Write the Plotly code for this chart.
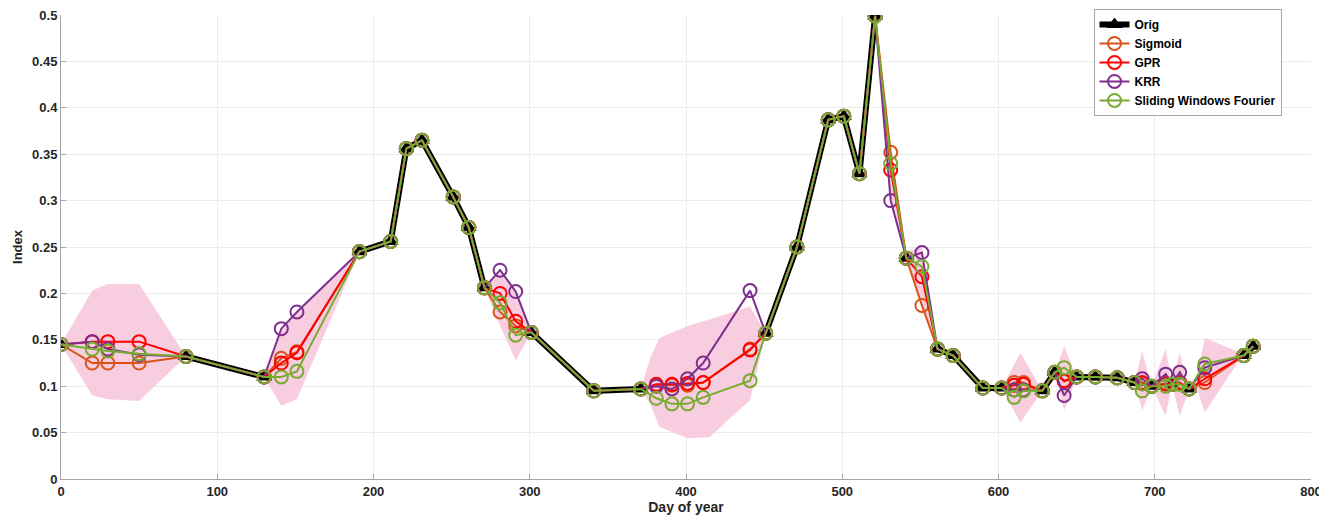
import plotly.graph_objects as go

# ---------------- data ----------------
orig_day = [0, 80, 130, 191, 211, 221, 231, 251, 261, 271, 301, 341, 371, 451, 471,
            491, 501, 511, 521, 541, 561, 571, 590, 602, 628, 636, 650, 662, 676,
            687, 698, 711, 722, 757, 763]
orig_val = [0.145, 0.132, 0.110, 0.245, 0.256, 0.356, 0.365, 0.304, 0.271, 0.206, 0.158,
            0.095, 0.097, 0.157, 0.250, 0.387, 0.391, 0.329, 0.499, 0.238, 0.140, 0.133,
            0.098, 0.098, 0.095, 0.115, 0.110, 0.110, 0.109, 0.104, 0.100, 0.102, 0.097,
            0.133, 0.143]

gap_day = [20, 30, 50, 141, 151, 281, 291, 381, 391, 401, 411, 441, 531, 551,
           610, 616, 642, 692, 707, 716, 732]
sigmoid_val = [0.125, 0.125, 0.125, 0.130, 0.137, 0.180, 0.165, 0.101, 0.101, 0.101, 0.104,
               0.140, 0.352, 0.187, 0.104, 0.104, 0.105, 0.103, 0.102, 0.103, 0.104]
gpr_val = [0.148, 0.148, 0.148, 0.125, 0.136, 0.200, 0.170, 0.102, 0.102, 0.103, 0.104,
           0.139, 0.333, 0.218, 0.101, 0.102, 0.106, 0.104, 0.103, 0.104, 0.108]
krr_val = [0.148, 0.140, 0.134, 0.162, 0.180, 0.225, 0.202, 0.100, 0.097, 0.108, 0.125,
           0.203, 0.300, 0.244, 0.096, 0.096, 0.090, 0.108, 0.113, 0.115, 0.120]
swf_val = [0.140, 0.138, 0.135, 0.110, 0.116, 0.190, 0.155, 0.087, 0.081, 0.081, 0.088,
           0.106, 0.340, 0.229, 0.088, 0.095, 0.120, 0.095, 0.100, 0.102, 0.124]

# uncertainty band segments (x, upper, lower)
band_segments = [
    ([0, 20, 30, 50, 80], [0.145, 0.203, 0.210, 0.210, 0.132], [0.145, 0.090, 0.086, 0.084, 0.132]),
    ([130, 141, 151, 191], [0.110, 0.160, 0.180, 0.245], [0.110, 0.079, 0.086, 0.245]),
    ([271, 281, 291, 301], [0.206, 0.222, 0.200, 0.158], [0.206, 0.165, 0.128, 0.158]),
    ([371, 377, 383, 401, 415, 441, 451], [0.097, 0.130, 0.152, 0.165, 0.172, 0.186, 0.157],
     [0.097, 0.081, 0.056, 0.044, 0.045, 0.085, 0.157]),
    ([521, 531, 541, 551, 561], [0.499, 0.355, 0.245, 0.250, 0.140], [0.499, 0.300, 0.235, 0.185, 0.140]),
    ([602, 614, 628], [0.098, 0.136, 0.095], [0.098, 0.061, 0.095]),
    ([636, 642, 650], [0.115, 0.143, 0.110], [0.115, 0.074, 0.110]),
    ([687, 692, 698], [0.104, 0.138, 0.100], [0.104, 0.074, 0.100]),
    ([698, 707, 711, 716, 722], [0.100, 0.140, 0.102, 0.136, 0.097], [0.100, 0.068, 0.102, 0.068, 0.097]),
    ([726, 732, 755], [0.103, 0.152, 0.136], [0.103, 0.072, 0.130]),
]

x_ticks = [0, 100, 200, 300, 400, 500, 600, 700, 800]
y_ticks = [0, 0.05, 0.1, 0.15, 0.2, 0.25, 0.3, 0.35, 0.4, 0.45, 0.5]
y_tick_text = ["0", "0.05", "0.1", "0.15", "0.2", "0.25", "0.3", "0.35", "0.4", "0.45", "0.5"]

# ---------------- figure ----------------
FONT = "Liberation Sans, Arial, sans-serif"
TXT = "#262626"

def merged(vals):
    pts = sorted(list(zip(orig_day, orig_val)) + list(zip(gap_day, vals)))
    return [p[0] for p in pts], [p[1] for p in pts]

# original series with missing values (gaps) at the gap days
orig_pts = sorted(list(zip(orig_day, orig_val)) + [(d, None) for d in gap_day],
                  key=lambda p: p[0])
orig_x = [p[0] for p in orig_pts]
orig_y = [p[1] for p in orig_pts]

bx, by = [], []
for xs, hi, lo in band_segments:
    bx += xs + xs[::-1] + [None]
    by += hi + lo[::-1] + [None]

fig = go.Figure()
fig.add_trace(go.Scatter(x=bx, y=by, mode="lines", fill="toself",
                         fillcolor="rgba(247,196,218,0.85)", line=dict(width=0),
                         hoverinfo="skip", showlegend=False))

fig.add_trace(go.Scatter(x=orig_x, y=orig_y, mode="lines+markers", name="Orig",
                         connectgaps=False,
                         line=dict(color="black", width=6),
                         marker=dict(symbol="triangle-up", size=14, color="black")))

series = [("Sigmoid", sigmoid_val, "#D95319"),
          ("GPR", gpr_val, "#FF0000"),
          ("KRR", krr_val, "#7E2F8E"),
          ("Sliding Windows Fourier", swf_val, "#77AC30")]
for name, vals, col in series:
    xs, ys = merged(vals)
    fig.add_trace(go.Scatter(x=xs, y=ys, mode="lines+markers", name=name,
                             line=dict(color=col, width=2),
                             marker=dict(symbol="circle-open", size=13,
                                         line=dict(color=col, width=2), color=col)))

axis_common = dict(showgrid=True, gridcolor="#EBEBEB", gridwidth=1,
                   showline=True, linecolor="#A6A6A6", linewidth=1,
                   ticks="inside", ticklen=5, tickcolor="#A6A6A6",
                   zeroline=False, mirror=False, automargin=False,
                   ticklabeloverflow="allow",
                   tickfont=dict(family=FONT, size=13, color=TXT, weight="bold"))

fig.update_layout(
    width=1327, height=520,
    margin=dict(l=53, r=24, t=7, b=49, autoexpand=False),
    paper_bgcolor="white", plot_bgcolor="white",
    xaxis=dict(range=[0, 800], tickvals=x_ticks,
               title=dict(text="Day of year", standoff=4,
                          font=dict(family=FONT, size=14, color=TXT, weight="bold")),
               **axis_common),
    yaxis=dict(range=[0, 0.5], tickvals=y_ticks, ticktext=y_tick_text,
               title=dict(text="Index", standoff=6,
                          font=dict(family=FONT, size=13, color=TXT, weight="bold")),
               **axis_common),
    legend=dict(x=0.826, y=1.013, xanchor="left", yanchor="top",
                bgcolor="white", bordercolor="#A6A6A6", borderwidth=1,
                font=dict(family=FONT, size=12, color="black", weight="bold"),
                tracegroupgap=0, itemwidth=30),
    showlegend=True,
)

fig.write_html("out.html")
